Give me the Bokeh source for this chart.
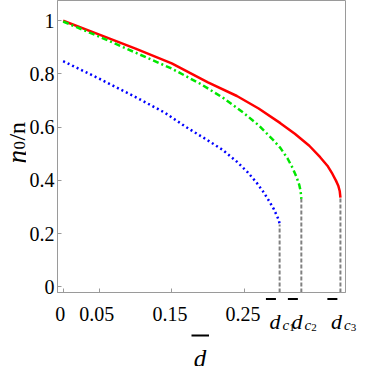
import math
from bokeh.plotting import figure
from bokeh.models import Range1d, FixedTicker
from bokeh.layouts import row, column
from bokeh.core.properties import value
from bokeh.embed import file_html
from bokeh.resources import INLINE

# ---- data ----
d_red = [0, 0.05, 0.10, 0.15, 0.20, 0.24, 0.27, 0.30, 0.32, 0.34, 0.355, 0.365, 0.372, 0.377, 0.380, 0.382, 0.383]
n_red = [1.0, 0.948, 0.895, 0.840, 0.768, 0.717, 0.670, 0.615, 0.575, 0.530, 0.487, 0.455, 0.424, 0.398, 0.380, 0.360, 0.335]

d_green = [0, 0.05, 0.10, 0.15, 0.19, 0.22, 0.25, 0.27, 0.29, 0.30, 0.31, 0.317, 0.322, 0.326, 0.328, 0.329]
n_green = [0.997, 0.940, 0.880, 0.820, 0.762, 0.712, 0.652, 0.607, 0.552, 0.522, 0.482, 0.446, 0.415, 0.384, 0.360, 0.330]

d_blue = [0, 0.05, 0.10, 0.14, 0.17, 0.20, 0.22, 0.24, 0.255, 0.267, 0.277, 0.285, 0.291, 0.295, 0.298, 0.299]
n_blue = [0.848, 0.782, 0.713, 0.655, 0.600, 0.550, 0.515, 0.470, 0.430, 0.392, 0.355, 0.320, 0.292, 0.268, 0.250, 0.234]

d_crit = [0.299, 0.329, 0.383]
n_crit = [0.234, 0.330, 0.335]
crit_index = ["1", "2", "3"]

x_ticks = [0, 0.05, 0.15, 0.25]
x_tick_labels = ["0", "0.05", "0.15", "0.25"]
y_ticks = [0, 0.2, 0.4, 0.6, 0.8, 1.0]
y_tick_labels = ["0", "0.2", "0.4", "0.6", "0.8", "1"]

SERIF = "Liberation Serif"
AXIS_GRAY = "#9a9a9a"
INK = "black"
TICK_FONT = "20px"

# ---- geometry (pixels) ----
W_ALL = 358
W_TITLE = 26
W_MAIN = W_ALL - W_TITLE
H_BOTTOM = 70
H_TOP = 366 - H_BOTTOM
B_LEFT, B_RIGHT, B_TOP, B_BOT = 28, 13, 0, 4
X0, X1 = -0.0078, 0.390
Y0, Y1 = -0.0216, 1.076
FRAME_W = W_MAIN - B_LEFT - B_RIGHT
px_per_x = FRAME_W / (X1 - X0)


def px(n):
    return n / px_per_x


def below(n):
    """pixels below the main frame -> y in the lower strip"""
    return n - B_BOT


# ---- main plot ----
p = figure(width=W_MAIN, height=H_TOP,
           x_range=Range1d(X0, X1), y_range=Range1d(Y0, Y1),
           output_backend="svg", toolbar_location=None,
           min_border_left=B_LEFT, min_border_right=B_RIGHT,
           min_border_top=B_TOP, min_border_bottom=B_BOT)
p.grid.visible = False
p.outline_line_color = AXIS_GRAY
p.outline_line_width = 1

for ax in (p.xaxis[0], p.yaxis[0]):
    ax.axis_line_color = AXIS_GRAY
    ax.major_tick_line_color = AXIS_GRAY
    ax.minor_tick_line_color = None
    ax.major_tick_in = 4
    ax.major_tick_out = 0
    ax.major_label_text_font = SERIF
    ax.major_label_text_font_size = TICK_FONT
    ax.major_label_text_color = INK
    ax.axis_label = None

# x axis: tick marks only (its labels are typeset in the strip below, on the same x scale)
p.xaxis.ticker = FixedTicker(ticks=[], minor_ticks=x_ticks)
p.xaxis.minor_tick_line_color = AXIS_GRAY
p.xaxis.minor_tick_in = 4
p.xaxis.minor_tick_out = 0
p.xaxis.major_label_standoff = 0

p.yaxis.ticker = FixedTicker(ticks=y_ticks)
p.yaxis.major_label_overrides = dict(zip(y_ticks, y_tick_labels))
p.yaxis.major_label_standoff = 3

# dashed verticals at the critical values
y_floor = p.y_range.start
p.segment(x0=d_crit, y0=[y_floor] * len(d_crit), x1=d_crit, y1=n_crit,
          line_color="#808080", line_width=2, line_dash="4 2")

p.line(d_red, n_red, line_color="#ff0000", line_width=2.5)
p.line(d_green, n_green, line_color="#00e600", line_width=2.5, line_dash="6 3 2 3")
p.line(d_blue, n_blue, line_color="#0000ff", line_width=2.5, line_dash="2 3")

# ---- y title  n_0/n  (narrow strip left, same vertical scale) ----
t = figure(width=W_TITLE, height=H_TOP, x_range=Range1d(0, W_TITLE), y_range=p.y_range,
           output_backend="svg", toolbar_location=None, x_axis_type=None, y_axis_type=None,
           min_border_left=0, min_border_right=0, min_border_top=B_TOP, min_border_bottom=B_BOT)
t.grid.visible = False
t.outline_line_color = None
rot = math.pi / 2
y_title = 0.463
t.text(x=[16], y=[y_title], text=["n"], angle=rot, text_font=value(SERIF), text_font_style="italic",
       text_font_size="27px", text_baseline="alphabetic", text_align="left", text_color=INK)
t.text(x=[18.5], y=[y_title], y_offset=-14, text=["0"], angle=rot, text_font=value(SERIF),
       text_font_size="17px", text_baseline="alphabetic", text_align="left", text_color=INK)
t.text(x=[16], y=[y_title], y_offset=-23, text=["/n"], angle=rot, text_font=value(SERIF),
       text_font_size="24px", text_baseline="alphabetic", text_align="left", text_color=INK)

# ---- strip below the x axis: tick labels, d_c labels, x title (same x scale) ----
left_px = W_TITLE + B_LEFT
b = figure(width=W_ALL, height=H_BOTTOM,
           x_range=Range1d(X0 - px(left_px), X0 + px(W_ALL - left_px)),
           y_range=Range1d(H_BOTTOM, 0),
           output_backend="svg", toolbar_location=None, x_axis_type=None, y_axis_type=None,
           min_border_left=0, min_border_right=0, min_border_top=0, min_border_bottom=0)
b.grid.visible = False
b.outline_line_color = None

# numeric tick labels under the tick marks of the main x axis
b.text(x=x_ticks, y=[below(21)] * len(x_ticks), text=x_tick_labels, text_font=value(SERIF),
       text_font_size=TICK_FONT, text_baseline="alphabetic", text_align="center", text_color=INK)

# d̄_{c_i}
n_c = len(d_crit)
b.segment(x0=[d + px(-13) for d in d_crit], y0=[below(6.5)] * n_c,
          x1=[d + px(-3) for d in d_crit], y1=[below(6.5)] * n_c,
          line_color=INK, line_width=2)
b.text(x=d_crit, y=[below(29)] * n_c, x_offset=-4, text=["d"] * n_c, text_font=value(SERIF),
       text_font_style="italic", text_font_size="22px", text_baseline="alphabetic",
       text_align="center", text_color=INK)
b.text(x=d_crit, y=[below(32)] * n_c, x_offset=7, text=["c"] * n_c, text_font=value(SERIF),
       text_font_style="italic", text_font_size="15px", text_baseline="alphabetic",
       text_align="center", text_color=INK)
b.text(x=d_crit, y=[below(34.5)] * n_c, x_offset=13, text=crit_index, text_font=value(SERIF),
       text_font_size="11px", text_baseline="alphabetic",
       text_align="center", text_color=INK)

# x title  d̄
x_mid = (X0 + X1) / 2
b.segment(x0=[x_mid + px(-8.5)], y0=[below(43)], x1=[x_mid + px(9)], y1=[below(43)],
          line_color=INK, line_width=2)
b.text(x=[x_mid], y=[below(66)], text=["d"], text_font=value(SERIF), text_font_style="italic",
       text_font_size="25px", text_baseline="alphabetic", text_align="center", text_color=INK)

layout = column(row(t, p, spacing=0), b, spacing=0)
open("out.html", "w").write(file_html(layout, INLINE))
